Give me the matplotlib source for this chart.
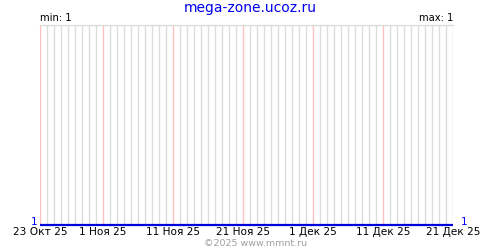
import matplotlib
matplotlib.use("Agg")
import matplotlib.pyplot as plt
import matplotlib.dates as mdates
import matplotlib.transforms as mtrans
import pandas as pd

title = "mega-zone.ucoz.ru"
footer = "©2025 www.mmnt.ru"
start_date = "2025-10-23"
end_date = "2025-12-21"
values = [1, 1, 1, 1, 1, 1, 1, 1, 1, 1,
          1, 1, 1, 1, 1, 1, 1, 1, 1, 1,
          1, 1, 1, 1, 1, 1, 1, 1, 1, 1,
          1, 1, 1, 1, 1, 1, 1, 1, 1, 1,
          1, 1, 1, 1, 1, 1, 1, 1, 1, 1,
          1, 1, 1, 1, 1, 1, 1, 1, 1, 1]
tick_dates = ["2025-10-23", "2025-11-01", "2025-11-11", "2025-11-21",
              "2025-12-01", "2025-12-11", "2025-12-21"]
tick_labels = ["23 Окт 25", "1 Ноя 25", "11 Ноя 25", "21 Ноя 25",
               "1 Дек 25", "11 Дек 25", "21 Дек 25"]

dates = pd.date_range(start_date, end_date, freq="D")
vmin, vmax = min(values), max(values)

fig = plt.figure(figsize=(5, 2.5), dpi=100)
ax = fig.add_axes([40/500, 25/250, 413/500, 200/250])

x = mdates.date2num(dates.to_pydatetime())
ax.plot(x, values, color="#0000dd", lw=1.6, solid_capstyle="butt", zorder=5, clip_on=False)
ax.set_xlim(x[0], x[-1])
ax.set_ylim(vmin, vmin + 1)

ax.set_xticks(x, minor=True)
major = mdates.date2num(pd.to_datetime(tick_dates).to_pydatetime())
ax.set_xticks(major)
ax.set_xticklabels(tick_labels, fontsize=7.6, color="black")
ax.grid(which="minor", axis="x", color="#dcdcdc", lw=1)
ax.grid(which="major", axis="x", color="#ffc0c0", lw=1)
ax.tick_params(axis="x", which="both", length=0, pad=1.5)

ax.set_yticks([])
yt = mtrans.blended_transform_factory(ax.transAxes, ax.transData)
left_off = mtrans.offset_copy(yt, fig=fig, x=-3, y=-2, units="dots")
right_off = mtrans.offset_copy(yt, fig=fig, x=8, y=-2, units="dots")
ax.text(0, vmin, str(vmin), transform=left_off, ha="right", va="bottom",
        fontsize=7.6, color="#0000ff", clip_on=False)
ax.text(1, vmin, str(vmin), transform=right_off, ha="left", va="bottom",
        fontsize=7.6, color="#0000ff", clip_on=False)

for s in ["left", "right"]:
    ax.spines[s].set_visible(False)
ax.spines["bottom"].set_visible(False)
ax.spines["top"].set_color("#dcdcdc")
ax.spines["top"].set_linewidth(1)

fig.text(0.5, 1 - 8/250, title, ha="center", va="center", fontsize=10, color="#0000ee")
fig.text(40/500, 1 - 18/250, f"min: {vmin}", ha="left", va="center", fontsize=7.2, color="black")
fig.text(453/500, 1 - 18/250, f"max: {vmax}", ha="right", va="center", fontsize=7.2, color="black")
fig.text(256/500, 1 - 244/250, footer, ha="center", va="center", fontsize=6.8, color="#a0a0a0")

fig.savefig("out.png", dpi=100, facecolor="white")
